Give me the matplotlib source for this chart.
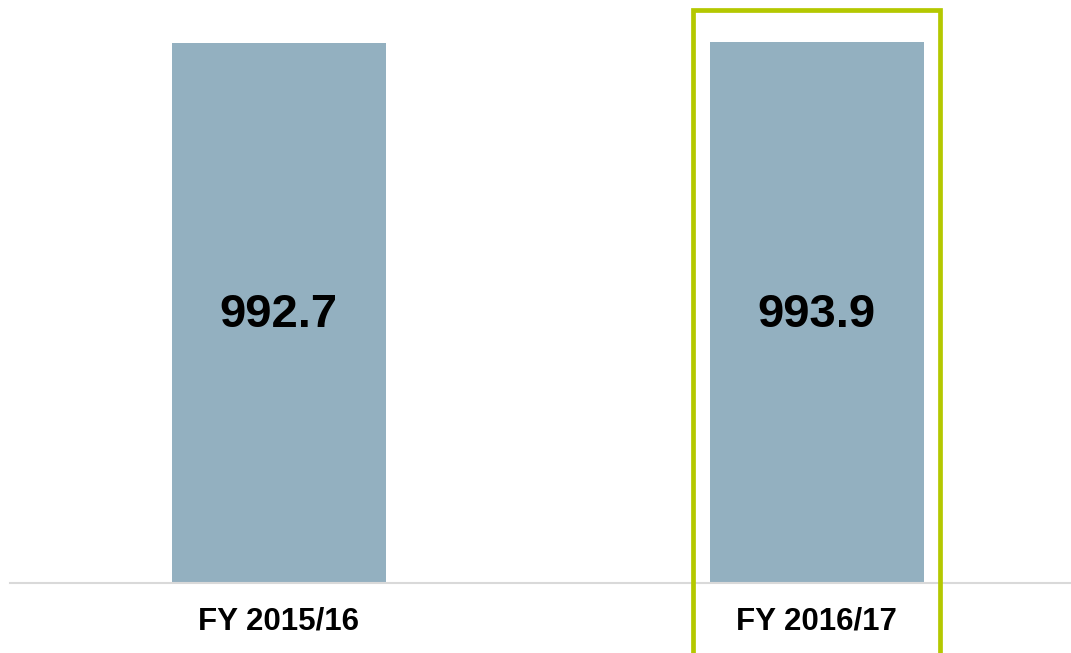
import matplotlib
matplotlib.use("Agg")
import matplotlib.pyplot as plt
from matplotlib.patches import Rectangle

# ─── Data ─────────────────────────────────────────────
categories = ["FY 2015/16", "FY 2016/17"]
values = [992.7, 993.9]
highlight = "FY 2016/17"

BAR_COLOR = "#93B0C0"
FRAME_COLOR = "#B4C800"

plt.rcParams["font.family"] = ["Liberation Sans", "DejaVu Sans"]

fig = plt.figure(figsize=(10.71, 6.53), dpi=100)
ax = fig.add_axes([10 / 1071, 70 / 653, 1 - 10 / 1071, 583 / 653])

x = list(range(len(categories)))
bars = ax.bar(x, values, width=0.398, color=BAR_COLOR, zorder=2)

ax.set_xlim(-0.5, 1.473)
ax.set_ylim(0, max(values[0] * 583 / 540, 1))

# value labels centred in the bars
for xi, v in zip(x, values):
    ax.text(xi, v * 0.496, f"{v:.1f}", ha="center", va="center",
            fontsize=34, fontweight="bold", color="black")

# category labels below baseline
for xi, c in zip(x, categories):
    ax.annotate(c, (xi, 0), xytext=(0, -38), textcoords="offset pixels",
                ha="center", va="center", fontsize=22.5, fontweight="bold",
                color="black", annotation_clip=False)

# highlight frame around latest year
hi = categories.index(highlight)
top = ax.get_ylim()[1] * (583 - 9.5) / 583
frame = Rectangle((hi - 0.2293, -400), 0.4586, top + 400, fill=False,
                  edgecolor=FRAME_COLOR, linewidth=3.4, clip_on=False, zorder=3)
ax.add_patch(frame)

for s in ["top", "right", "left"]:
    ax.spines[s].set_visible(False)
ax.spines["bottom"].set_color("#D9D9D9")
ax.spines["bottom"].set_linewidth(1.5)
ax.set_xticks([])
ax.set_yticks([])

fig.savefig("out.png", dpi=100)
